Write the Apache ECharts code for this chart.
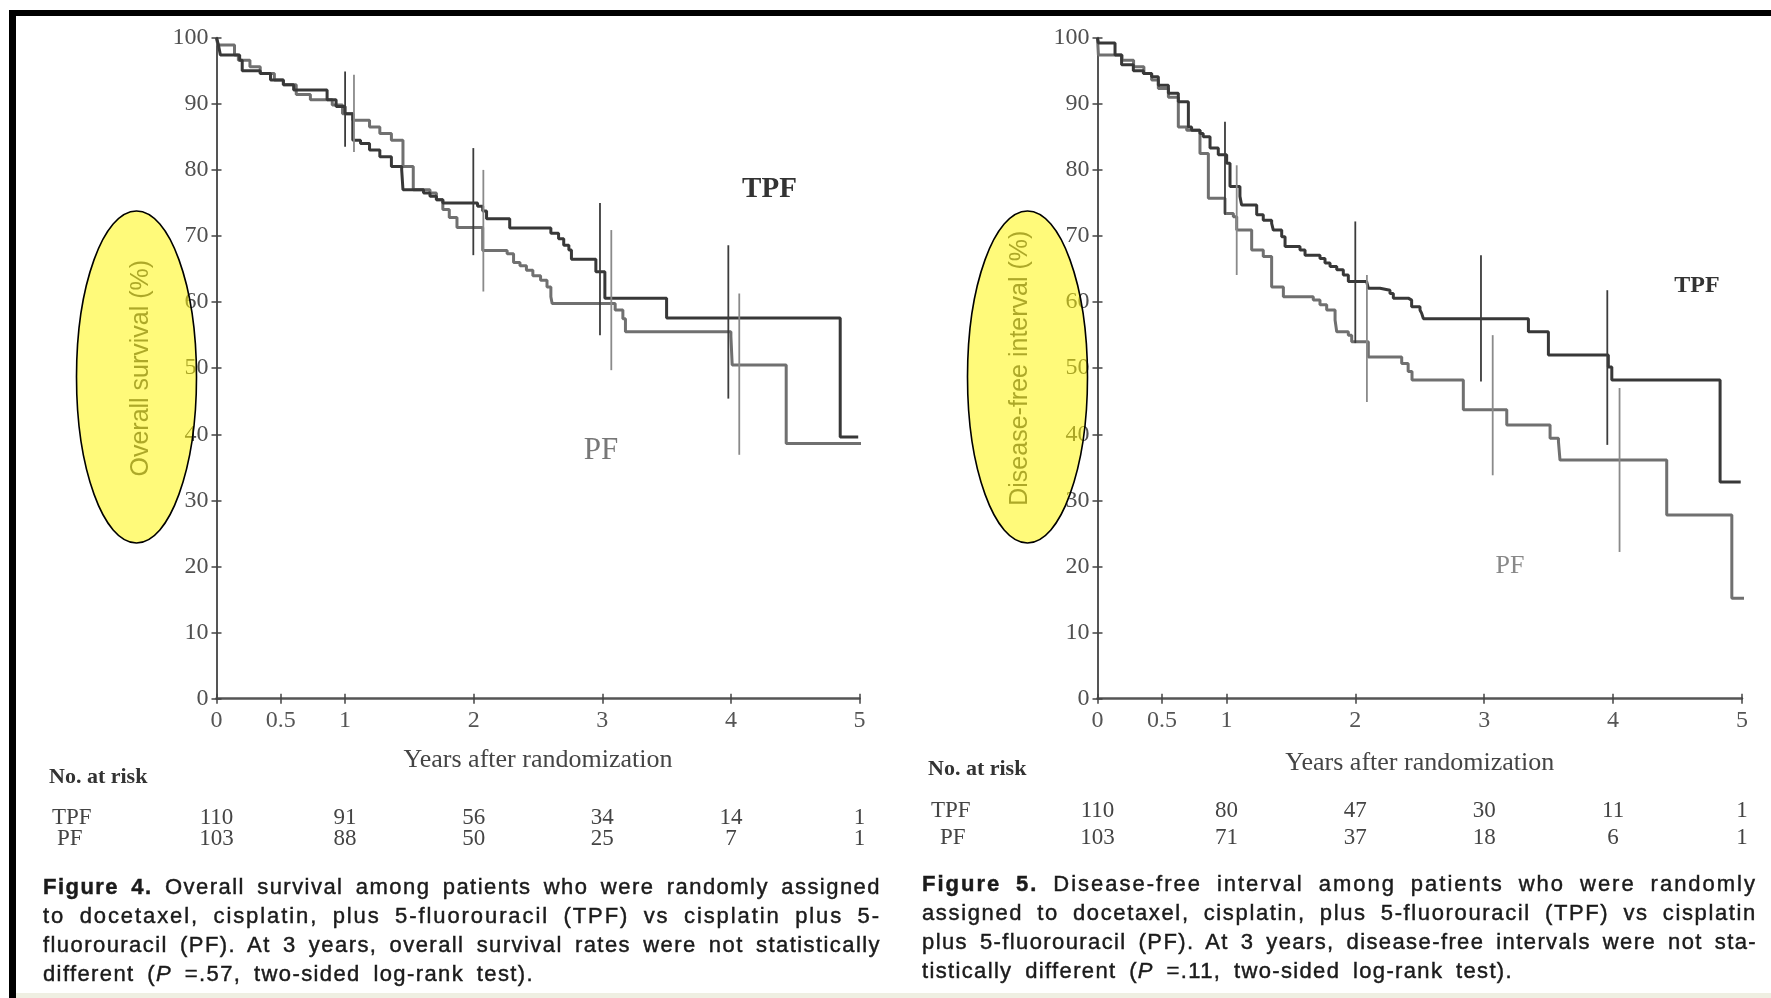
<!DOCTYPE html>
<html>
<head>
<meta charset="utf-8">
<title>Figure 4 / Figure 5</title>
<script src="https://cdn.jsdelivr.net/npm/echarts@6.0.0/dist/echarts.min.js"></script>
<style>
html, body { margin: 0; padding: 0; background: #fff; }
#wrap { position: relative; width: 1771px; height: 998px; overflow: hidden; }
#chart { position: absolute; left: 0; top: 0; width: 1771px; height: 998px; }
.cap {
  position: absolute; white-space: nowrap;
  font-family: "Liberation Sans", Arial, sans-serif; font-size: 22px; line-height: 22px;
  color: #1b1b1b; -webkit-text-stroke: 0.45px #1b1b1b; transform-origin: 0 50%;
}
</style>
</head>
<body>
<div id="wrap"><div id="chart"></div></div>
<script>
// ---- data ----
const xTicks = [0, 0.5, 1, 2, 3, 4, 5]
const riskYears = [0, 1, 2, 3, 4, 5]
const osRiskTPF = [110, 91, 56, 34, 14, 1]
const osRiskPF = [103, 88, 50, 25, 7, 1]
const dfiRiskTPF = [110, 80, 47, 30, 11, 1]
const dfiRiskPF = [103, 71, 37, 18, 6, 1]

// overall survival, [years, %]
const osTPF = [
  [0, 100], [0.015, 98.9], [0.03, 97.4], [0.18, 96.6], [0.2, 95.0], [0.34, 94.6], [0.42, 93.6],
  [0.52, 92.9], [0.6, 92.1], [0.86, 90.6], [0.93, 89.6], [1.0, 88.5], [1.06, 84.5], [1.12, 84.0],
  [1.19, 83.0], [1.27, 82.0], [1.36, 80.5], [1.44, 80.0], [1.45, 77.0], [1.61, 76.5], [1.66, 76.0],
  [1.71, 75.5], [1.76, 75.0], [2.03, 74.5], [2.07, 73.8], [2.1, 72.6], [2.28, 71.2], [2.6, 70.4],
  [2.66, 69.6], [2.7, 68.6], [2.74, 67.9], [2.76, 66.5], [2.95, 64.6], [3.02, 60.6], [3.5, 57.6],
  [4.85, 39.6], [4.99, 39.6]
]
const osPF = [
  [0, 100], [0.01, 98.9], [0.14, 97.4], [0.17, 96.6], [0.26, 95.6], [0.34, 94.6], [0.45, 93.6],
  [0.52, 92.9], [0.62, 91.4], [0.73, 90.6], [0.9, 89.8], [0.98, 88.5], [1.06, 87.5], [1.19, 86.5],
  [1.27, 85.5], [1.36, 84.5], [1.45, 80.5], [1.53, 77.0], [1.66, 76.5], [1.71, 75.5], [1.76, 74.0],
  [1.81, 72.8], [1.87, 71.3], [2.07, 67.8], [2.26, 67.3], [2.31, 66.0], [2.36, 65.5], [2.41, 64.8],
  [2.46, 64.0], [2.52, 63.3], [2.57, 62.3], [2.6, 60.8], [2.61, 59.8], [3.1, 58.8], [3.16, 57.5],
  [3.18, 55.5], [4.0, 54.8], [4.01, 50.5], [4.43, 38.6], [5.08, 38.6]
]
// confidence bars, [years, low, high]
const osCiTPF = [[1.0, 83.5, 94.9], [1.997, 67.1, 83.3], [2.982, 55.0, 75.0], [3.98, 45.4, 68.6]]
const osCiPF = [[1.069, 82.7, 94.4], [2.075, 61.6, 80.0], [3.07, 49.7, 70.9], [4.065, 36.9, 61.3]]

// disease-free interval, [years, %]
const dfiTPF = [
  [0, 100], [0.007, 99.2], [0.136, 97.4], [0.187, 95.9], [0.278, 95.0], [0.356, 94.6], [0.42, 94.1],
  [0.472, 92.8], [0.55, 91.6], [0.627, 90.3], [0.705, 86.5], [0.73, 86.0], [0.795, 85.5], [0.82, 85.0],
  [0.873, 83.3], [0.937, 82.3], [1.002, 81.0], [1.028, 77.5], [1.105, 76.0], [1.118, 74.7],
  [1.235, 73.2], [1.286, 72.4], [1.351, 71.9], [1.364, 70.9], [1.429, 69.9], [1.455, 68.4],
  [1.571, 67.9], [1.61, 67.1], [1.726, 66.6], [1.765, 65.9], [1.804, 65.4], [1.856, 64.9],
  [1.907, 64.1], [1.946, 63.1], [2.088, 62.8], [2.101, 62.1], [2.192, 61.8], [2.269, 61.3],
  [2.295, 60.6], [2.411, 60.3], [2.437, 59.3], [2.502, 58.8], [2.515, 58.3], [2.528, 57.5],
  [3.343, 55.5], [3.498, 52.0], [3.963, 50.2], [3.99, 48.2], [4.83, 32.8], [4.99, 32.8]
]
const dfiPF = [
  [0, 100], [0.007, 97.4], [0.19, 96.6], [0.28, 95.6], [0.36, 94.6], [0.42, 93.6], [0.472, 92.3],
  [0.55, 91.0], [0.627, 86.5], [0.692, 86.0], [0.795, 82.5], [0.86, 75.7], [0.989, 73.4],
  [1.054, 72.9], [1.08, 70.9], [1.196, 67.9], [1.286, 66.9], [1.351, 62.3], [1.442, 60.8],
  [1.674, 60.3], [1.726, 59.6], [1.778, 58.8], [1.843, 57.3], [1.856, 55.5], [1.946, 55.0],
  [1.972, 54.0], [2.101, 51.7], [2.36, 50.7], [2.41, 49.5], [2.44, 48.2], [2.838, 43.7],
  [3.175, 41.4], [3.511, 39.4], [3.576, 38.9], [3.588, 36.1], [4.416, 27.8], [4.921, 15.2],
  [5.089, 15.2]
]
const dfiCiTPF = [[0.989, 73.2, 87.3], [2.0, 53.8, 72.2], [2.975, 48.0, 67.1], [3.955, 38.4, 61.8]]
const dfiCiPF = [[1.08, 64.1, 80.7], [2.09, 44.9, 64.1], [3.066, 33.8, 55.0], [4.05, 22.2, 47.0]]

// ---- chart ----
const serif = '"Liberation Serif", "DejaVu Serif", serif'
const sans = '"Liberation Sans", Arial, sans-serif'
const dark = '#383838'
const light = '#707070'

const chart = echarts.init(document.getElementById('chart'))

function xAxes(gridIndex, nameGap) {
  return [{
    gridIndex: gridIndex, type: 'value', min: 0, max: 5,
    name: 'Years after randomization', nameLocation: 'middle', nameGap: nameGap,
    nameTextStyle: { fontFamily: serif, fontSize: 26, color: '#444' },
    axisLine: { show: true, onZero: false, lineStyle: { color: '#555', width: 2.5 } },
    axisTick: { show: true, customValues: xTicks, length: 5, lineStyle: { color: '#444', width: 1.5 } },
    axisLabel: { customValues: xTicks, fontFamily: serif, fontSize: 24, color: '#555', margin: 10 },
    splitLine: { show: false }
  }, {
    gridIndex: gridIndex, type: 'value', min: 0, max: 5, position: 'bottom',
    axisLine: { show: false },
    axisTick: { show: true, inside: true, customValues: xTicks, length: 5, lineStyle: { color: '#444', width: 1.5 } },
    axisLabel: { show: false },
    splitLine: { show: false }
  }]
}

function yAxes(gridIndex, name, nameGap) {
  return [{
    gridIndex: gridIndex, type: 'value', min: 0, max: 100, interval: 10,
    name: name, nameLocation: 'middle', nameGap: nameGap,
    nameTextStyle: { fontFamily: sans, fontSize: 25, color: '#555' },
    axisLine: { show: true, lineStyle: { color: '#555', width: 2 } },
    axisTick: { show: true, length: 5, lineStyle: { color: '#444', width: 1.5 } },
    axisLabel: { fontFamily: serif, fontSize: 24, color: '#505050', margin: 8 },
    splitLine: { show: false }
  }, {
    gridIndex: gridIndex, type: 'value', min: 0, max: 100, interval: 10, position: 'left',
    axisLine: { show: false },
    axisTick: { show: true, inside: true, length: 5, lineStyle: { color: '#444', width: 1.5 } },
    axisLabel: { show: false },
    splitLine: { show: false }
  }]
}

function kmSeries(xi, yi, data, color, z) {
  return {
    type: 'line', xAxisIndex: xi, yAxisIndex: yi, data: data, step: 'end',
    symbol: 'none', showSymbol: false, clip: false, silent: true, z: z,
    lineStyle: { color: color, width: 3 }
  }
}

function ciSeries(xi, yi, data, color) {
  return {
    type: 'custom', xAxisIndex: xi, yAxisIndex: yi, data: data, clip: false, silent: true, z: 4,
    encode: { x: 0, y: [1, 2] },
    renderItem: function (params, api) {
      const a = api.coord([api.value(0), api.value(1)])
      const b = api.coord([api.value(0), api.value(2)])
      return {
        type: 'line',
        shape: { x1: a[0], y1: a[1], x2: b[0], y2: b[1] },
        style: { stroke: color, lineWidth: 1.8 }
      }
    }
  }
}

chart.setOption({
  animation: false,
  backgroundColor: '#fff',
  grid: [
    { left: 216.5, top: 37.7, width: 643, height: 661, outerBoundsMode: 'none' },
    { left: 1097.5, top: 37.7, width: 644.5, height: 661, outerBoundsMode: 'none' }
  ],
  xAxis: xAxes(0, 48).concat(xAxes(1, 51)),
  yAxis: yAxes(0, 'Overall survival (%)', 63).concat(yAxes(1, 'Disease-free interval (%)', 65)),
  series: [
    kmSeries(0, 0, osPF, light, 2),
    kmSeries(0, 0, osTPF, dark, 3),
    ciSeries(0, 0, osCiTPF, '#3c3c3c'),
    ciSeries(0, 0, osCiPF, '#8a8a8a'),
    kmSeries(2, 2, dfiPF, light, 2),
    kmSeries(2, 2, dfiTPF, dark, 3),
    ciSeries(2, 2, dfiCiTPF, '#3c3c3c'),
    ciSeries(2, 2, dfiCiPF, '#8a8a8a')
  ]
})

// ---- annotations, tables, highlight ellipses, frame ----
const px = (i, t, v) => chart.convertToPixel({ xAxisIndex: i, yAxisIndex: i }, [t, v])

function txt(text, x, y, font, fill, align) {
  return {
    type: 'text', z: 50, silent: true,
    style: { text: text, x: x, y: y, font: font, fill: fill, align: align || 'center', verticalAlign: 'middle' }
  }
}

const g = []
// curve labels
let p = px(0, 4.30, 77.0); g.push(txt('TPF', p[0], p[1], 'bold 29px ' + serif, '#333'))
p = px(0, 2.99, 37.5); g.push(txt('PF', p[0], p[1], '31px ' + serif, '#777'))
p = px(2, 4.65, 62.4); g.push(txt('TPF', p[0], p[1], 'bold 24px ' + serif, '#333'))
p = px(2, 3.20, 20.0); g.push(txt('PF', p[0], p[1], '26px ' + serif, '#888'))

// number at risk tables
function riskTable(i, headY, rowY, labelX, tpf, pf) {
  g.push(txt('No. at risk', labelX[0], headY, 'bold 22px ' + serif, '#333', 'left'))
  g.push(txt('TPF', labelX[1], rowY[0], '23px ' + serif, '#444', 'left'))
  g.push(txt('PF', labelX[2], rowY[1], '23px ' + serif, '#444', 'left'))
  riskYears.forEach((yr, k) => {
    const x = px(i, yr, 0)[0]
    g.push(txt(String(tpf[k]), x, rowY[0], '23px ' + serif, '#444'))
    g.push(txt(String(pf[k]), x, rowY[1], '23px ' + serif, '#444'))
  })
}
riskTable(0, 777, [818, 839], [49, 52, 57], osRiskTPF, osRiskPF)
riskTable(2, 769, [811, 838], [928, 931, 940], dfiRiskTPF, dfiRiskPF)

// yellow highlight over the y-axis titles
;[[136.5, 377], [1027.5, 377]].forEach(c => {
  g.push({
    type: 'ellipse', z: 100, silent: true,
    shape: { cx: c[0], cy: c[1], rx: 60, ry: 166 },
    style: { fill: 'rgba(255,245,0,0.52)', stroke: '#000', lineWidth: 1.6 }
  })
})

// page frame and bottom strip
g.push({ type: 'rect', z: 120, silent: true, shape: { x: 9, y: 10, width: 7, height: 988 }, style: { fill: '#000' } })
g.push({ type: 'rect', z: 120, silent: true, shape: { x: 9, y: 10, width: 1762, height: 6 }, style: { fill: '#000' } })
g.push({ type: 'rect', z: 110, silent: true, shape: { x: 16, y: 993, width: 1755, height: 5 }, style: { fill: '#efefe2' } })

chart.setOption({ graphic: g })

// ---- captions (justified lines) ----
const wrap = document.getElementById('wrap')
const capLeft = [
  '<b>Figure 4.</b> Overall survival among patients who were randomly assigned',
  'to docetaxel, cisplatin, plus 5-fluorouracil (TPF) vs cisplatin plus 5-',
  'fluorouracil (PF). At 3 years, overall survival rates were not statistically',
  'different (<i>P</i> =.57, two-sided log-rank test).'
]
const capRight = [
  '<b>Figure 5.</b> Disease-free interval among patients who were randomly',
  'assigned to docetaxel, cisplatin, plus 5-fluorouracil (TPF) vs cisplatin',
  'plus 5-fluorouracil (PF). At 3 years, disease-free intervals were not sta-',
  'tistically different (<i>P</i> =.11, two-sided log-rank test).'
]

// spread each line to its width: mostly letter spacing, a little word spacing
function placeCaption(lines, left, widths, centers) {
  lines.forEach((html, i) => {
    const d = document.createElement('div')
    d.className = 'cap'
    d.innerHTML = html
    d.style.left = left + 'px'
    d.style.top = (centers[i] - 11) + 'px'
    wrap.appendChild(d)
    const w = d.getBoundingClientRect().width
    const chars = d.textContent.length
    const spaces = (d.textContent.match(/ /g) || []).length
    const extra = widths[i] - w
    if (extra < 0) {
      d.style.transform = 'scaleX(' + (widths[i] / w) + ')'
    } else {
      d.style.letterSpacing = (extra * 0.7 / chars) + 'px'
      if (spaces) d.style.wordSpacing = (extra * 0.3 / spaces) + 'px'
    }
  })
}
placeCaption(capLeft, 43, [838, 838, 838, 491], [887, 916, 945, 974])
placeCaption(capRight, 922, [835, 835, 835, 591], [884, 913, 942, 971])
</script>
</body>
</html>
